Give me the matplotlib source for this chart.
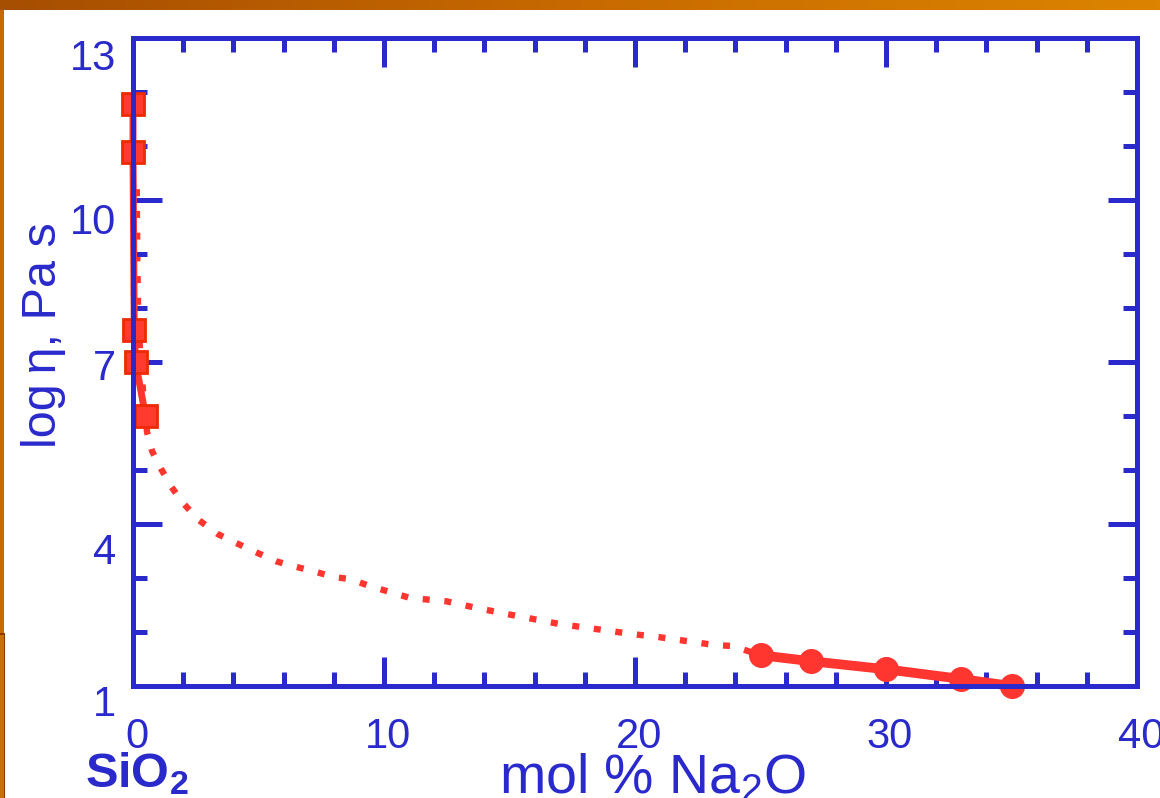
import numpy as np
import matplotlib
matplotlib.use("Agg")
import matplotlib.pyplot as plt
from matplotlib.transforms import ScaledTranslation
from matplotlib.colors import LinearSegmentedColormap

# ---- data ----
sq_x = [0.0, 0.0, 0.05, 0.1, 0.5]
sq_y = [11.78, 10.89, 7.59, 7.0, 6.0]

circ_x = [25, 27, 30, 33, 35]
circ_y = [1.57, 1.46, 1.31, 1.13, 1.0]

dot_x = [0.15, 0.17, 0.2, 0.3, 0.45, 0.56, 0.76, 1.12, 1.51, 1.99, 2.63, 3.39, 4.10,
         4.98, 5.70, 6.37, 7.17, 7.97, 8.65, 9.44, 11.04, 12.47, 13.35, 14.70,
         16.97, 19.92, 20.88, 23.15, 23.9, 25.0]
dot_y = [10.2, 9.0, 8.0, 7.0, 6.2, 5.70, 5.35, 5.02, 4.70, 4.39, 4.07, 3.81, 3.65,
         3.46, 3.31, 3.22, 3.13, 3.02, 2.98, 2.85, 2.63, 2.57, 2.48, 2.35,
         2.15, 1.96, 1.91, 1.76, 1.74, 1.57]

x_ticks = [0, 10, 20, 30, 40]
y_ticks = [1, 4, 7, 10, 13]
y_label_offsets_px = [14, 24, 3, 18, 17]

BLUE = "#2a2acc"
RED = "#ff3530"

plt.rcParams['font.family'] = ['Liberation Sans', 'DejaVu Sans']
plt.rcParams['mathtext.fontset'] = 'custom'
plt.rcParams['mathtext.rm'] = 'Liberation Sans'
plt.rcParams['mathtext.it'] = 'Liberation Sans'
plt.rcParams['mathtext.bf'] = 'Liberation Sans:bold'

fig = plt.figure(figsize=(11.6, 7.98), dpi=100)
fig.patch.set_facecolor("white")

# decorative frame: top gradient band and left strip
bg = fig.add_axes([0, 0, 1, 1], zorder=-10)
bg.set_axis_off()
bg.set_xlim(0, 1160)
bg.set_ylim(798, 0)
grad = np.linspace(0, 1, 256).reshape(1, -1)
cm = LinearSegmentedColormap.from_list("band", ["#a64e02", "#c86a00", "#dc8400"])
bg.imshow(grad, cmap=cm, extent=[0, 1160, 10, 0], aspect="auto")
bg.add_patch(plt.Rectangle((0, 10), 4, 625, color="#c86800", lw=0))
bg.add_patch(plt.Rectangle((0, 635), 4, 163, color="#c87000", lw=0))
bg.add_patch(plt.Rectangle((3.5, 633), 1.5, 165, color="#8a3a00", lw=0))
bg.add_patch(plt.Rectangle((0, 633), 5, 2, color="#8a3a00", lw=0))

ax = fig.add_axes([133/1160, 1-686/798, (1137-133)/1160, (686-38)/798])
ax.set_xlim(0, 40)
ax.set_ylim(1, 13)

# dotted curve
ax.plot(dot_x, dot_y, color=RED, lw=4.6, linestyle=(0, (1.1, 2.3)),
        dash_capstyle="butt", zorder=1.5, clip_on=False)
# squares (SiO2-rich)
ax.plot(sq_x, sq_y, color=RED, lw=5, marker="s", ms=16, mfc="#ff3a2e",
        mec="#ee2a00", mew=2, clip_on=False, zorder=2)
# circles
ax.plot(circ_x, circ_y, color=RED, lw=7, marker="o", ms=17, mfc=RED, mec=RED,
        clip_on=False, zorder=2)

for s in ax.spines.values():
    s.set_color(BLUE)
    s.set_linewidth(3.6)
    s.set_zorder(3)

ax.set_xticks(x_ticks)
ax.set_xticks(np.arange(0, 41, 2), minor=True)
ax.set_yticks(y_ticks)
ax.set_yticks(np.arange(1, 14, 1), minor=True)
ax.tick_params(which="both", direction="in", top=True, right=True, color=BLUE,
               width=3.6, labelcolor=BLUE, labelsize=30)
ax.tick_params(which="major", length=21)
ax.tick_params(which="minor", length=10)
ax.tick_params(axis="x", which="major", pad=22)
ax.tick_params(axis="y", which="major", pad=12)
ax.set_xticklabels([str(v) for v in x_ticks])
ax.set_yticklabels([str(v) for v in y_ticks])
for lab, off in zip(ax.get_yticklabels(), y_label_offsets_px):
    lab.set_transform(lab.get_transform() + ScaledTranslation(0, -off/100, fig.dpi_scale_trans))
for lab in ax.get_xticklabels():
    lab.set_transform(lab.get_transform() + ScaledTranslation(4/100, 0, fig.dpi_scale_trans))

fig.text(43/1160, 1-335/798, "log\u2009\u03b7, Pa s", rotation=90, color=BLUE,
         fontsize=35, ha="center", va="center")
fig.text(652/1160, 1-793/798, r"mol % Na$_2$O", color=BLUE, fontsize=40,
         ha="center", va="baseline")
fig.text(85/1160, 1-787/798, r"SiO$_\mathbf{2}$", color=BLUE, fontsize=35,
         fontweight="bold", ha="left", va="baseline")

fig.savefig("out.png", dpi=100)
